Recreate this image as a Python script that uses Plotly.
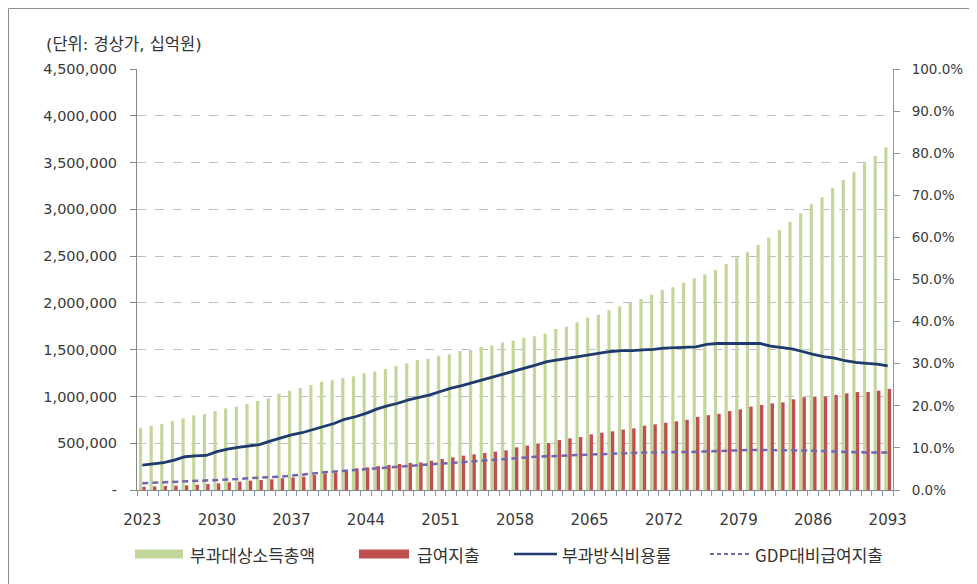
import plotly.graph_objects as go

years = list(range(2023, 2094))

income = [660000, 687000, 705000, 737000, 766000, 798000, 812000, 844000, 873000, 891000,
          919000, 951000, 980000, 1029000, 1061000, 1090000, 1122000, 1158000, 1173000, 1197000,
          1215000, 1247000, 1265000, 1293000, 1325000, 1354000, 1390000, 1403000, 1434000, 1450000,
          1484000, 1495000, 1530000, 1545000, 1577000, 1596000, 1628000, 1643000, 1671000, 1721000,
          1746000, 1792000, 1842000, 1874000, 1921000, 1963000, 2006000, 2041000, 2088000, 2138000,
          2167000, 2216000, 2263000, 2305000, 2352000, 2416000, 2487000, 2541000, 2619000, 2697000,
          2779000, 2868000, 2958000, 3054000, 3129000, 3225000, 3314000, 3396000, 3492000, 3570000,
          3663000]

benefit = [35000, 39000, 43000, 46000, 50000, 57000, 64000, 71000, 82000, 89000,
           100000, 107000, 114000, 125000, 135000, 142000, 160000, 178000, 185000, 207000,
           231000, 242000, 256000, 267000, 278000, 290000, 295000, 313000, 331000, 349000,
           367000, 381000, 395000, 410000, 424000, 456000, 474000, 492000, 502000, 534000,
           552000, 566000, 595000, 613000, 627000, 645000, 659000, 687000, 702000, 719000,
           734000, 750000, 782000, 800000, 814000, 844000, 862000, 891000, 909000, 926000,
           937000, 969000, 991000, 998000, 998000, 1016000, 1033000, 1048000, 1048000, 1062000,
           1080000]

cost_rate = [5.9, 6.2, 6.5, 7.1, 7.9, 8.1, 8.2, 9.1, 9.7, 10.1,
             10.5, 10.8, 11.6, 12.3, 13.1, 13.6, 14.3, 15.0, 15.8, 16.8,
             17.4, 18.2, 19.2, 20.0, 20.6, 21.4, 22.0, 22.6, 23.4, 24.2,
             24.8, 25.5, 26.1, 26.8, 27.5, 28.3, 28.9, 29.7, 30.5, 30.9,
             31.3, 31.8, 32.2, 32.6, 32.9, 33.1, 33.1, 33.3, 33.4, 33.7,
             33.8, 33.9, 34.0, 34.6, 34.8, 34.8, 34.8, 34.8, 34.8, 34.2,
             33.9, 33.5, 32.9, 32.2, 31.7, 31.3, 30.7, 30.3, 30.1, 29.9,
             29.5]

gdp_ratio = [1.6, 1.7, 1.8, 1.9, 2.0, 2.1, 2.2, 2.4, 2.5, 2.6,
             2.8, 2.9, 3.0, 3.2, 3.4, 3.6, 3.9, 4.2, 4.4, 4.6,
             4.8, 4.9, 5.1, 5.3, 5.5, 5.7, 5.9, 6.2, 6.3, 6.4,
             6.6, 6.8, 7.0, 7.1, 7.3, 7.5, 7.7, 7.9, 8.0, 8.1,
             8.2, 8.4, 8.5, 8.6, 8.7, 8.8, 8.8, 8.9, 8.9, 9.0,
             9.0, 9.0, 9.1, 9.2, 9.3, 9.4, 9.5, 9.5, 9.5, 9.5,
             9.5, 9.5, 9.4, 9.3, 9.2, 9.1, 9.0, 8.9, 8.9, 8.9,
             8.9]

x_labels = [2023, 2030, 2037, 2044, 2051, 2058, 2065, 2072, 2079, 2086, 2093]
left_ticks = [0, 500000, 1000000, 1500000, 2000000, 2500000, 3000000, 3500000, 4000000, 4500000]
left_text = ["-", "500,000", "1,000,000", "1,500,000", "2,000,000", "2,500,000",
             "3,000,000", "3,500,000", "4,000,000", "4,500,000"]
right_ticks = [0, 10, 20, 30, 40, 50, 60, 70, 80, 90, 100]

names = ["부과대상소득총액", "급여지출", "부과방식비용률", "GDP대비급여지출"]
title_text = "(단위: 경상가, 십억원)"

GREEN = "#C3D69B"
RED = "#C0504D"
NAVY = "#1F3A6E"
PURPLE = "#7466AE"
FONT = "DejaVu Sans, Noto Sans CJK KR, sans-serif"
KFONT = "Noto Sans CJK KR, DejaVu Sans, sans-serif"
TXT = "#3A3A3A"

# the page puts the figure 8px in from the top-left corner
OFF = 8
W, H = 977 - OFF, 584 - OFF
PL, PR, PT, PB = 137, 893, 69, 490   # plot box in page pixels
PW, PH = PR - PL, PB - PT


def px_x(x):
    return (x - PL) / PW


def px_y(y):
    return (PB - y) / PH


fig = go.Figure()

fig.add_trace(go.Bar(x=years, y=income, width=0.3, offset=-0.32, marker_color=GREEN,
                     marker_line_width=0, showlegend=False, name=names[0]))
fig.add_trace(go.Bar(x=years, y=benefit, width=0.32, offset=0.0, marker_color=RED,
                     marker_line_width=0, showlegend=False, name=names[1]))
fig.add_trace(go.Scatter(x=years, y=cost_rate, mode="lines", yaxis="y2",
                         line=dict(color=NAVY, width=2.8), showlegend=False, name=names[2]))
fig.add_trace(go.Scatter(x=years, y=gdp_ratio, mode="lines", yaxis="y2",
                         line=dict(color=PURPLE, width=2.5, dash="6px,4px"),
                         showlegend=False, name=names[3]))

# legend (drawn by hand so that it can be laid out like the original)
LEG_Y = 554
legend_items = [
    # (symbol kind, colour, symbol x0, symbol x1, text x)
    ("box", GREEN, 135, 183, 188),
    ("box", RED, 359, 409, 415),
    ("line", NAVY, 514, 557, 560),
    ("dash", PURPLE, 710, 750, 753),
]
shapes = []
annotations = []
for (kind, col, sx0, sx1, tx), label in zip(legend_items, names):
    if kind == "box":
        shapes.append(dict(type="rect", xref="paper", yref="paper",
                           x0=px_x(sx0), x1=px_x(sx1), y0=px_y(LEG_Y + 4.5), y1=px_y(LEG_Y - 4.5),
                           fillcolor=col, line=dict(width=0)))
    else:
        shapes.append(dict(type="line", xref="paper", yref="paper",
                           x0=px_x(sx0), x1=px_x(sx1), y0=px_y(LEG_Y), y1=px_y(LEG_Y),
                           line=dict(color=col, width=2.5 if kind == "line" else 2,
                                     dash="solid" if kind == "line" else "4px,3px")))
    annotations.append(dict(text=label, xref="paper", yref="paper",
                            x=px_x(tx), y=px_y(LEG_Y), xanchor="left", yanchor="middle",
                            showarrow=False, font=dict(family=KFONT, size=17, color="#333333")))

annotations.append(dict(
    text=title_text, xref="paper", yref="paper",
    x=px_x(44), y=px_y(44), xanchor="left", yanchor="middle",
    showarrow=False, font=dict(size=16.5, color="#333333"),
))

# outer frame: only its left and top edges fall inside the picture
FRAME = dict(color="#8C8C8C", width=1)
shapes.append(dict(type="line", xref="paper", yref="paper",
                   x0=px_x(8.5), x1=px_x(8.5), y0=px_y(584), y1=px_y(8.5),
                   line=FRAME, layer="above"))
shapes.append(dict(type="line", xref="paper", yref="paper",
                   x0=px_x(8.5), x1=px_x(977), y0=px_y(8.5), y1=px_y(8.5),
                   line=FRAME, layer="above"))

fig.update_layout(
    width=W, height=H,
    margin=dict(l=PL - OFF, r=977 - PR, t=PT - OFF, b=584 - PB, autoexpand=False),
    paper_bgcolor="white", plot_bgcolor="white",
    font=dict(family=FONT, color=TXT, size=14),
    barmode="overlay",
    showlegend=False,
    xaxis=dict(
        range=[2022.5, 2093.5], tickmode="array", tickvals=x_labels,
        ticks="", showgrid=False, zeroline=False,
        showline=True, linecolor="#868686", linewidth=1,
        tickfont=dict(size=15, color=TXT), ticklabelstandoff=16,
        minor=dict(tickmode="linear", tick0=2022.5, dtick=1, ticks="outside",
                   ticklen=5, tickcolor="#8494C0", showgrid=False),
    ),
    yaxis=dict(
        range=[0, 4500000], tickmode="array", tickvals=left_ticks, ticktext=left_text,
        showgrid=True, gridcolor="#BFBFBF", griddash="dash", gridwidth=1,
        zeroline=False, showline=True, linecolor="#868686", linewidth=1,
        ticks="outside", ticklen=6, tickcolor="#868686",
        tickfont=dict(size=14.5, color=TXT), ticklabelstandoff=10,
    ),
    yaxis2=dict(
        range=[0, 100], overlaying="y", side="right", tickmode="array",
        tickvals=right_ticks, ticktext=[f"{v:.1f}%" for v in right_ticks],
        showgrid=False, zeroline=False, showline=True, linecolor="#8A93B5", linewidth=1,
        ticks="outside", ticklen=6, tickcolor="#8A93B5",
        tickfont=dict(size=13.5, color=TXT), ticklabelstandoff=9,
    ),
    annotations=annotations,
    shapes=shapes,
)

fig.write_html("out.html")
